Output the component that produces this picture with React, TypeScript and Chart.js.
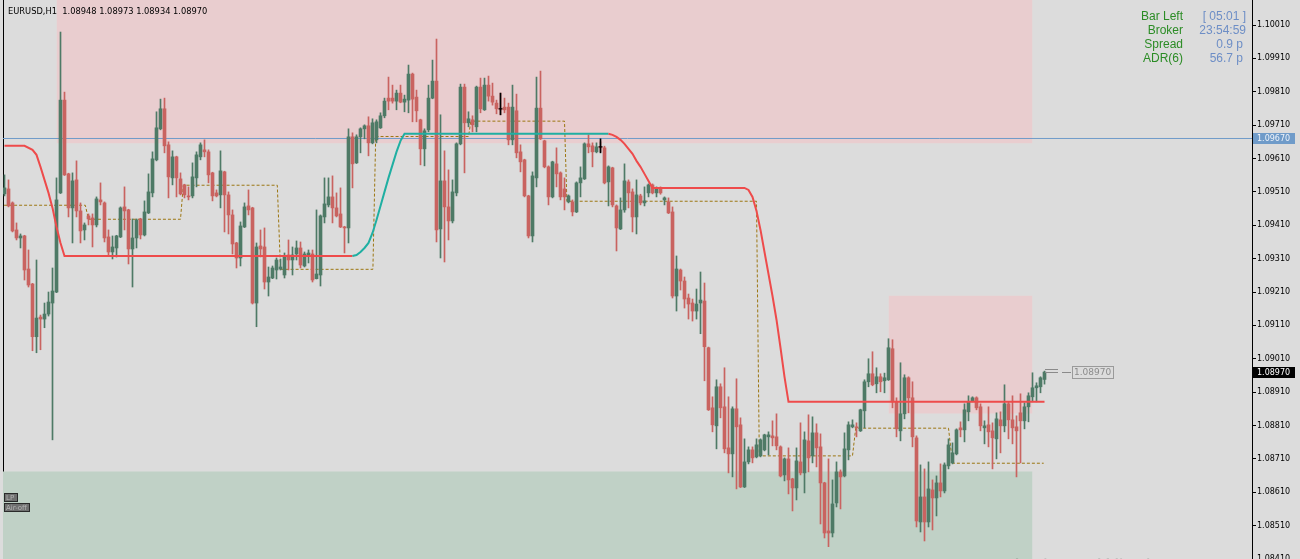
import React, { useEffect, useRef } from "react";
import { Chart, registerables } from "chart.js";

Chart.register(...registerables);

const symbolTitle = "EURUSD,H1";

const openPrices = [
  1.09504,1.09519,1.09477,1.09396,1.09372,1.09378,1.09279,1.09234,1.09076,1.09135,
  1.09129,1.09144,1.09177,1.09210,1.09507,1.09785,1.09564,1.09462,1.09546,1.09453,
  1.09396,1.09438,1.09432,1.09411,1.09486,1.09477,1.09375,1.09330,1.09342,1.09375,
  1.09465,1.09456,1.09339,1.09372,1.09429,1.09381,1.09447,1.09507,1.09606,1.09699,
  1.09759,1.09651,1.09552,1.09615,1.09549,1.09531,1.09498,1.09498,1.09552,1.09615,
  1.09636,1.09630,1.09567,1.09507,1.09501,1.09570,1.09501,1.09441,1.09357,1.09312,
  1.09405,1.09468,1.09462,1.09177,1.09348,1.09345,1.09240,1.09252,1.09276,1.09279,
  1.09261,1.09321,1.09306,1.09324,1.09342,1.09288,1.09321,1.09324,1.09250,1.09261,
  1.09435,1.09471,1.09495,1.09462,1.09444,1.09405,1.09402,1.09675,1.09597,1.09675,
  1.09699,1.09708,1.09657,1.09666,1.09702,1.09738,1.09791,1.09791,1.09782,1.09806,
  1.09779,1.09785,1.09863,1.09794,1.09726,1.09639,1.09696,1.09791,1.09842,1.09399,
  1.09543,1.09465,1.09423,1.09507,1.09654,1.09824,1.09717,1.09726,1.09705,1.09824,
  1.09756,1.09830,1.09797,1.09776,1.09759,1.09764,1.09764,1.09666,1.09753,1.09630,
  1.09606,1.09498,1.09378,1.09552,1.09761,1.09663,1.09585,1.09495,1.09594,1.09567,
  1.09519,1.09480,1.09480,1.09450,1.09537,1.09549,1.09654,1.09648,1.09630,1.09645,
  1.09642,1.09540,1.09582,1.09468,1.09399,1.09456,1.09540,1.09510,1.09435,1.09498,
  1.09477,1.09507,1.09531,1.09507,1.09519,1.09486,1.09480,1.09450,1.09198,1.09276,
  1.09243,1.09192,1.09177,1.09153,1.09177,1.09183,1.09043,1.08863,1.08809,1.08926,
  1.08866,1.08743,1.08725,1.08860,1.08812,1.08626,1.08701,1.08737,1.08716,1.08719,
  1.08737,1.08776,1.08779,1.08776,1.08746,1.08662,1.08710,1.08650,1.08623,1.08701,
  1.08668,1.08764,1.08719,1.08788,1.08746,1.08638,1.08494,1.08488,1.08578,1.08671,
  1.08659,1.08737,1.08806,1.08806,1.08794,1.08854,1.08941,1.08965,1.08935,1.08956,
  1.08944,1.08947,1.09040,1.08881,1.08794,1.08845,1.08953,1.08893,1.08773,1.08521,
  1.08596,1.08521,1.08617,1.08593,1.08638,1.08614,1.08689,1.08698,1.08725,1.08803,
  1.08797,1.08851,1.08884,1.08893,1.08866,1.08803,1.08812,1.08794,1.08770,1.08827,
  1.08809,1.08875,1.08827,1.08806,1.08848,1.08824,1.08866,1.08896,1.08923,1.08926,
  1.08948,
];

const highPrices = [
  1.09561,1.09546,1.09480,1.09417,1.09384,1.09380,1.09336,1.09236,1.09306,1.09141,
  1.09177,1.09210,1.09282,1.09552,1.09989,1.09809,1.09566,1.09567,1.09603,1.09477,
  1.09417,1.09444,1.09444,1.09495,1.09537,1.09480,1.09396,1.09378,1.09380,1.09465,
  1.09525,1.09458,1.09429,1.09429,1.09431,1.09483,1.09564,1.09630,1.09750,1.09788,
  1.09791,1.09660,1.09633,1.09617,1.09567,1.09533,1.09525,1.09597,1.09630,1.09657,
  1.09666,1.09636,1.09569,1.09516,1.09633,1.09572,1.09510,1.09456,1.09359,1.09420,
  1.09477,1.09516,1.09464,1.09357,1.09396,1.09402,1.09285,1.09288,1.09312,1.09309,
  1.09327,1.09366,1.09345,1.09363,1.09360,1.09330,1.09336,1.09336,1.09456,1.09441,
  1.09552,1.09552,1.09558,1.09507,1.09522,1.09407,1.09699,1.09687,1.09681,1.09702,
  1.09711,1.09735,1.09729,1.09726,1.09747,1.09791,1.09854,1.09830,1.09815,1.09830,
  1.09800,1.09890,1.09866,1.09815,1.09728,1.09699,1.09830,1.09905,1.09968,1.09741,
  1.09633,1.09576,1.09546,1.09657,1.09833,1.09833,1.09750,1.09738,1.09827,1.09851,
  1.09851,1.09857,1.09836,1.09785,1.09806,1.09791,1.09776,1.09830,1.09803,1.09651,
  1.09608,1.09500,1.09570,1.09854,1.09872,1.09665,1.09588,1.09602,1.09642,1.09570,
  1.09552,1.09501,1.09486,1.09540,1.09585,1.09657,1.09681,1.09657,1.09657,1.09660,
  1.09647,1.09588,1.09584,1.09471,1.09492,1.09594,1.09546,1.09519,1.09546,1.09503,
  1.09525,1.09534,1.09534,1.09525,1.09525,1.09495,1.09492,1.09465,1.09318,1.09279,
  1.09255,1.09204,1.09189,1.09219,1.09270,1.09237,1.09045,1.08896,1.08947,1.08935,
  1.08983,1.08896,1.08866,1.08950,1.08833,1.08770,1.08746,1.08746,1.08770,1.08770,
  1.08784,1.08791,1.08824,1.08845,1.08749,1.08713,1.08743,1.08652,1.08743,1.08818,
  1.08791,1.08842,1.08836,1.08815,1.08785,1.08640,1.08710,1.08647,1.08701,1.08677,
  1.08788,1.08821,1.08827,1.08818,1.08859,1.08947,1.09010,1.09031,1.08983,1.08965,
  1.08967,1.09070,1.09067,1.08893,1.08998,1.08962,1.08956,1.08941,1.08779,1.08692,
  1.08680,1.08701,1.08647,1.08659,1.08695,1.08698,1.08770,1.08758,1.08800,1.08821,
  1.08875,1.08899,1.08896,1.08896,1.08875,1.08824,1.08866,1.08818,1.08848,1.08851,
  1.08932,1.08881,1.08899,1.08839,1.08905,1.08878,1.08908,1.08968,1.08938,1.08956,
  1.08973,
];

const lowPrices = [
  1.09498,1.09465,1.09390,1.09366,1.09342,1.09246,1.09225,1.09034,1.09028,1.09037,
  1.09103,1.09138,1.08767,1.09208,1.09505,1.09559,1.09435,1.09357,1.09435,1.09357,
  1.09366,1.09411,1.09345,1.09405,1.09471,1.09360,1.09318,1.09309,1.09315,1.09373,
  1.09396,1.09294,1.09225,1.09342,1.09369,1.09378,1.09445,1.09495,1.09603,1.09696,
  1.09627,1.09492,1.09531,1.09495,1.09501,1.09492,1.09486,1.09492,1.09525,1.09606,
  1.09615,1.09537,1.09483,1.09495,1.09462,1.09390,1.09384,1.09324,1.09282,1.09288,
  1.09403,1.09441,1.09174,1.09106,1.09315,1.09219,1.09198,1.09250,1.09249,1.09276,
  1.09252,1.09276,1.09261,1.09306,1.09282,1.09285,1.09297,1.09240,1.09249,1.09228,
  1.09417,1.09465,1.09417,1.09435,1.09403,1.09327,1.09357,1.09522,1.09595,1.09627,
  1.09669,1.09618,1.09654,1.09657,1.09700,1.09732,1.09756,1.09776,1.09756,1.09777,
  1.09750,1.09747,1.09720,1.09720,1.09591,1.09588,1.09690,1.09789,1.09360,1.09312,
  1.09300,1.09366,1.09417,1.09498,1.09651,1.09567,1.09705,1.09690,1.09690,1.09747,
  1.09754,1.09782,1.09770,1.09744,1.09741,1.09747,1.09651,1.09651,1.09612,1.09570,
  1.09495,1.09372,1.09360,1.09525,1.09667,1.09582,1.09471,1.09492,1.09525,1.09486,
  1.09456,1.09477,1.09438,1.09448,1.09495,1.09547,1.09627,1.09585,1.09627,1.09630,
  1.09534,1.09468,1.09465,1.09333,1.09397,1.09449,1.09462,1.09390,1.09384,1.09471,
  1.09468,1.09495,1.09504,1.09495,1.09503,1.09471,1.09445,1.09192,1.09153,1.09216,
  1.09162,1.09129,1.09123,1.09129,1.09085,1.08944,1.08855,1.08791,1.08740,1.08833,
  1.08728,1.08668,1.08656,1.08620,1.08624,1.08624,1.08695,1.08698,1.08713,1.08716,
  1.08734,1.08722,1.08749,1.08737,1.08656,1.08644,1.08605,1.08554,1.08587,1.08662,
  1.08608,1.08671,1.08698,1.08686,1.08515,1.08473,1.08447,1.08476,1.08566,1.08560,
  1.08656,1.08707,1.08803,1.08776,1.08792,1.08803,1.08926,1.08929,1.08908,1.08911,
  1.08908,1.08945,1.08863,1.08776,1.08764,1.08830,1.08848,1.08746,1.08506,1.08491,
  1.08464,1.08506,1.08497,1.08539,1.08596,1.08608,1.08680,1.08695,1.08722,1.08776,
  1.08761,1.08824,1.08881,1.08857,1.08794,1.08755,1.08746,1.08680,1.08710,1.08728,
  1.08791,1.08770,1.08755,1.08656,1.08698,1.08800,1.08821,1.08881,1.08881,1.08908,
  1.08934,
];

const closePrices = [
  1.09522,1.09468,1.09393,1.09372,1.09378,1.09276,1.09231,1.09076,1.09132,1.09129,
  1.09144,1.09180,1.09213,1.09486,1.09785,1.09561,1.09462,1.09543,1.09453,1.09393,
  1.09411,1.09429,1.09411,1.09489,1.09480,1.09372,1.09330,1.09345,1.09378,1.09462,
  1.09453,1.09339,1.09372,1.09426,1.09381,1.09450,1.09510,1.09609,1.09702,1.09759,
  1.09648,1.09555,1.09615,1.09552,1.09504,1.09501,1.09495,1.09555,1.09621,1.09651,
  1.09630,1.09561,1.09498,1.09498,1.09573,1.09501,1.09441,1.09354,1.09312,1.09408,
  1.09465,1.09456,1.09177,1.09345,1.09339,1.09240,1.09255,1.09282,1.09306,1.09285,
  1.09315,1.09306,1.09321,1.09342,1.09291,1.09324,1.09327,1.09246,1.09264,1.09438,
  1.09474,1.09495,1.09462,1.09438,1.09405,1.09402,1.09675,1.09594,1.09675,1.09699,
  1.09708,1.09657,1.09717,1.09720,1.09738,1.09782,1.09782,1.09782,1.09806,1.09779,
  1.09788,1.09863,1.09788,1.09753,1.09639,1.09693,1.09791,1.09842,1.09396,1.09543,
  1.09465,1.09423,1.09510,1.09654,1.09824,1.09717,1.09729,1.09711,1.09824,1.09759,
  1.09830,1.09797,1.09779,1.09759,1.09756,1.09756,1.09666,1.09764,1.09627,1.09600,
  1.09498,1.09378,1.09558,1.09761,1.09669,1.09585,1.09495,1.09600,1.09564,1.09495,
  1.09495,1.09498,1.09450,1.09537,1.09552,1.09654,1.09645,1.09630,1.09645,1.09642,
  1.09537,1.09585,1.09471,1.09402,1.09456,1.09543,1.09507,1.09435,1.09501,1.09477,
  1.09483,1.09531,1.09507,1.09519,1.09507,1.09492,1.09447,1.09198,1.09279,1.09243,
  1.09189,1.09174,1.09153,1.09174,1.09186,1.09046,1.08857,1.08812,1.08926,1.08863,
  1.08740,1.08725,1.08860,1.08806,1.08626,1.08701,1.08737,1.08713,1.08752,1.08767,
  1.08782,1.08782,1.08773,1.08749,1.08659,1.08710,1.08647,1.08623,1.08704,1.08668,
  1.08767,1.08713,1.08788,1.08743,1.08638,1.08488,1.08488,1.08575,1.08671,1.08656,
  1.08740,1.08812,1.08812,1.08803,1.08857,1.08941,1.08965,1.08932,1.08956,1.08941,
  1.08953,1.09043,1.08881,1.08800,1.08845,1.08953,1.08893,1.08776,1.08524,1.08596,
  1.08521,1.08620,1.08593,1.08638,1.08614,1.08692,1.08752,1.08728,1.08797,1.08797,
  1.08857,1.08881,1.08893,1.08863,1.08809,1.08809,1.08791,1.08773,1.08830,1.08809,
  1.08875,1.08827,1.08803,1.08794,1.08824,1.08866,1.08899,1.08923,1.08929,1.08953,
  1.08970,
];

// Right price axis
const axisTickPrices = [
  1.08410, 1.08510, 1.08610, 1.08710, 1.08810, 1.08910, 1.09010, 1.09110, 1.09210,
  1.09310, 1.09410, 1.09510, 1.09610, 1.09710, 1.09810, 1.09910, 1.10010,
];
const priceMin = 1.0841;
const priceMax = 1.10085;
const barIndexMin = -0.375;
const barIndexMax = 311.875;

// Smoothed trend line: falling (red) / rising (teal) parts
const trendFallAX = [0, 5, 7, 8, 9, 10, 11, 12, 13, 14, 15, 87];
const trendFallAY = [1.09648, 1.09648, 1.09636, 1.09621, 1.09585, 1.09546, 1.09507, 1.09462, 1.09405, 1.09357, 1.09318, 1.09318];
const trendRiseX = [87, 88, 89, 90, 91, 92, 93, 94, 95, 96, 97, 98, 99, 100, 151];
const trendRiseY = [1.09318, 1.09321, 1.0933, 1.09342, 1.09357, 1.09387, 1.09426, 1.09468, 1.0951, 1.09552, 1.09591, 1.0963, 1.09663, 1.09684, 1.09684];
const trendFallBX = [151, 152, 153, 154, 155, 156, 157, 158, 159, 160, 161, 162, 185, 186, 187, 188, 189, 190, 191, 192, 193, 194, 195, 196, 260];
const trendFallBY = [1.09684, 1.09681, 1.09675, 1.09666, 1.09654, 1.09639, 1.09624, 1.09603, 1.09585, 1.09564, 1.09543, 1.09522, 1.09522, 1.09516, 1.09495, 1.09453, 1.09396, 1.0933, 1.09264, 1.09198, 1.09127, 1.09043, 1.08956, 1.08881, 1.08881];

// Dotted step level line
const levelX = [-0.1, 20.2, 21, 44, 44.7, 68.2, 69, 92.1, 92.8, 116, 116.6, 140, 140.6, 188, 188.7, 212, 212.8, 236, 237, 259.8];
const levelY = [1.0947, 1.0947, 1.09428, 1.09428, 1.0953, 1.0953, 1.09278, 1.09278, 1.09676, 1.09676, 1.09722, 1.09722, 1.09482, 1.09482, 1.08719, 1.08719, 1.08802, 1.08802, 1.08697, 1.08697];

// Supply (pink) and demand (green) zones
const supplyFrom = [13, 221];
const supplyTo = [257, 257];
const supplyTop = [1.102, 1.09199];
const supplyBottom = [1.09656, 1.08846];
const demandFrom = [barIndexMin];
const demandTo = [257];
const demandTop = [1.08672];
const demandBottom = [1.083];

// Horizontal line
const hLinePrice = 1.0967;

// Trade markers
const markerIdx = [124, 149];
const markerHigh = [1.09806, 1.09669];
const markerLow = [1.09741, 1.09627];
const markerMid = [1.09759, 1.09645];

// Info panel
const infoLabels = ["Bar Left", "Broker", "Spread", "ADR(6)"];
const infoValues = ["[ 05:01 ]", "23:54:59", "0.9 p", "56.7 p"];
const flagLabels = ["LP", "Air-off"];

const BULL = "#4E7A66";
const BEAR = "#C96360";
const TREND_RED = "#EE4B4B";
const TREND_TEAL = "#1FAFA2";

export default function App() {
  const ref = useRef<HTMLCanvasElement | null>(null);

  useEffect(() => {
    const canvas = ref.current;
    if (!canvas) return;
    const n = openPrices.length;
    const idx = openPrices.map((_, i) => i);
    const colors = idx.map((i) => (closePrices[i] >= openPrices[i] ? BULL : BEAR));
    const wicks = idx.map((i) => ({ x: i, y: [lowPrices[i], highPrices[i]] }));
    const bodies = idx.map((i) => ({ x: i, y: [openPrices[i], closePrices[i]] }));
    const pts = (xs: number[], ys: number[]) => xs.map((x, k) => ({ x, y: ys[k] }));
    const last = n - 1;
    const fmt = (v: number) => v.toFixed(5);
    const header = `${symbolTitle}  ${fmt(openPrices[last])} ${fmt(highPrices[last])} ${fmt(lowPrices[last])} ${fmt(closePrices[last])}`;

    const zone = (from: number, to: number, top: number, bottom: number, color: string, order: number) => ({
      type: "line",
      data: [{ x: from, y: top }, { x: to, y: top }],
      fill: { value: bottom },
      backgroundColor: color,
      borderColor: "rgba(0,0,0,0)",
      borderWidth: 0,
      pointRadius: 0,
      pointHoverRadius: 0,
      order,
      xAxisID: "x",
      yAxisID: "y",
    });

    const lineDs = (data: any[], color: string, width: number, order: number, dash: number[] = []) => ({
      type: "line",
      data,
      borderColor: color,
      borderWidth: width,
      borderDash: dash,
      pointRadius: 0,
      pointHoverRadius: 0,
      fill: false,
      tension: 0,
      order,
      xAxisID: "x",
      yAxisID: "y",
    });

    const datasets: any[] = [];
    supplyFrom.forEach((f, k) => datasets.push(zone(f, supplyTo[k], supplyTop[k], supplyBottom[k], "#E9CDCF", 30 + k)));
    demandFrom.forEach((f, k) => datasets.push(zone(f, demandTo[k], demandTop[k], demandBottom[k], "#C0D1C6", 35 + k)));
    datasets.push(lineDs([{ x: barIndexMin, y: hLinePrice }, { x: barIndexMax, y: hLinePrice }], "#6F9BC9", 1, 25));
    datasets.push(lineDs(pts(levelX, levelY), "#9C7612", 1, 22, [3, 2]));
    datasets.push({
      type: "bar",
      data: wicks,
      backgroundColor: colors,
      barThickness: 1,
      grouped: false,
      minBarLength: 1,
      order: 20,
      xAxisID: "x",
      yAxisID: "y",
    });
    datasets.push({
      type: "bar",
      data: bodies,
      backgroundColor: colors,
      barThickness: 3,
      grouped: false,
      minBarLength: 1,
      order: 19,
      xAxisID: "x",
      yAxisID: "y",
    });
    datasets.push({
      type: "bar",
      data: markerIdx.map((x, k) => ({ x, y: [markerLow[k], markerHigh[k]] })),
      backgroundColor: "#000",
      barThickness: 1,
      grouped: false,
      order: 18,
      xAxisID: "x",
      yAxisID: "y",
    });
    datasets.push({
      type: "line",
      data: pts(markerIdx, markerMid),
      showLine: false,
      pointStyle: "line",
      pointRadius: 2,
      pointHoverRadius: 2,
      borderColor: "#000",
      borderWidth: 1,
      order: 17,
      xAxisID: "x",
      yAxisID: "y",
    });
    datasets.push(lineDs(pts(trendFallAX, trendFallAY), TREND_RED, 2, 3));
    datasets.push(lineDs(pts(trendRiseX, trendRiseY), TREND_TEAL, 2, 2));
    datasets.push(lineDs(pts(trendFallBX, trendFallBY), TREND_RED, 2, 1));

    const overlay = {
      id: "overlay",
      afterDraw(chart: any) {
        const { ctx, scales } = chart;
        const ys = scales.y;
        const xs = scales.x;
        ctx.save();
        // header
        ctx.font = '8.3px "DejaVu Sans"';
        ctx.fillStyle = "#000";
        ctx.textAlign = "left";
        ctx.textBaseline = "alphabetic";
        ctx.fillText(header, 8, 14);

        // info panel
        ctx.font = '12px "Liberation Sans", Arial';
        ctx.textAlign = "right";
        infoLabels.forEach((t, k) => {
          const by = 20 + 14 * k;
          ctx.fillStyle = "#2B8C25";
          ctx.fillText(t, 1183, by);
          ctx.fillStyle = "#6D8EC6";
          ctx.fillText(infoValues[k], k < 2 ? 1246 : 1243, by);
        });

        // axis price labels
        const axisLabel = (price: number, bg: string, fg: string) => {
          const py = Math.round(ys.getPixelForValue(price));
          ctx.fillStyle = bg;
          ctx.fillRect(1253, py - 5, 42, 11);
          ctx.fillStyle = fg;
          ctx.font = '8px "DejaVu Sans"';
          ctx.textAlign = "left";
          ctx.textBaseline = "middle";
          ctx.fillText(fmt(price), 1257, py + 0.5);
        };
        axisLabel(hLinePrice, "#6F9BC9", "#EEF3FA");
        axisLabel(closePrices[last], "#000", "#fff");

        // last price marker near last bar
        const py = Math.round(ys.getPixelForValue(closePrices[last]));
        const px = Math.round(xs.getPixelForValue(last));
        ctx.strokeStyle = "#8A8A8A";
        ctx.lineWidth = 1;
        ctx.beginPath();
        ctx.moveTo(px, py - 3 + 0.5);
        ctx.lineTo(px + 13, py - 3 + 0.5);
        ctx.moveTo(px, py + 0.5);
        ctx.lineTo(px + 13, py + 0.5);
        ctx.moveTo(px + 17, py + 0.5);
        ctx.lineTo(px + 26, py + 0.5);
        ctx.stroke();
        ctx.strokeStyle = "#9A9A9A";
        ctx.strokeRect(px + 27.5, py - 5.5, 41, 12);
        ctx.fillStyle = "#8C8C8C";
        ctx.font = '9px "DejaVu Sans"';
        ctx.textAlign = "left";
        ctx.textBaseline = "middle";
        ctx.fillText(fmt(closePrices[last]), px + 29, py + 1);

        // flags bottom-left
        ctx.font = '7px "DejaVu Sans"';
        flagLabels.forEach((t, k) => {
          const w = Math.ceil(ctx.measureText(t).width) + 5;
          const top = 493 + 10 * k;
          ctx.fillStyle = "#6F6F6F";
          ctx.fillRect(4, top, w, 9);
          ctx.strokeStyle = "#2A2A2A";
          ctx.strokeRect(4.5, top + 0.5, w - 1, 8);
          ctx.fillStyle = "#B4B4B4";
          ctx.textBaseline = "middle";
          ctx.fillText(t, 6, top + 5);
        });

        // watermark (cut off at the bottom)
        ctx.font = '22px "Noto Sans"';
        ctx.fillStyle = "rgba(0,0,0,0.12)";
        ctx.textBaseline = "alphabetic";
        ctx.fillText("Activate Windows", 1010, 574);
        ctx.restore();
      },
    };

    const chart = new Chart(canvas, {
      type: "bar",
      data: { datasets },
      options: {
        animation: false,
        responsive: false,
        devicePixelRatio: 1,
        events: [],
        layout: { padding: 0, autoPadding: false },
        plugins: { legend: { display: false }, tooltip: { enabled: false } },
        scales: {
          x: {
            type: "linear",
            min: barIndexMin,
            max: barIndexMax,
            display: false,
            offset: false,
          },
          y: {
            type: "linear",
            position: "right",
            min: priceMin,
            max: priceMax,
            bounds: "data",
            beginAtZero: false,
            afterBuildTicks: (s: any) => {
              s.ticks = axisTickPrices.map((v) => ({ value: v }));
            },
            afterFit: (s: any) => {
              s.width = 48;
              s.paddingTop = 0;
              s.paddingBottom = 0;
            },
            ticks: {
              autoSkip: false,
              padding: 1,
              color: "#000",
              font: { family: "DejaVu Sans", size: 8 },
              callback: (v: any) => Number(v).toFixed(5),
            },
            grid: { drawOnChartArea: false, drawTicks: true, tickLength: 4, color: "#000" },
            border: { display: true, color: "#000", width: 1 },
          },
          yL: {
            type: "linear",
            position: "left",
            min: 0,
            max: 1,
            afterFit: (s: any) => {
              s.width = 3;
              s.paddingTop = 0;
              s.paddingBottom = 0;
            },
            ticks: { display: false },
            grid: { display: false, drawTicks: false },
            border: { display: true, color: "#000", width: 1 },
          },
        },
      } as any,
      plugins: [overlay],
    } as any);
    return () => chart.destroy();
  }, []);

  return (
    <div style={{ position: "fixed", left: 0, top: 0, width: 1300, height: 559, background: "#DCDCDC", overflow: "hidden" }}>
      <canvas ref={ref} width={1300} height={559} style={{ display: "block", width: 1300, height: 559 }} />
    </div>
  );
}
